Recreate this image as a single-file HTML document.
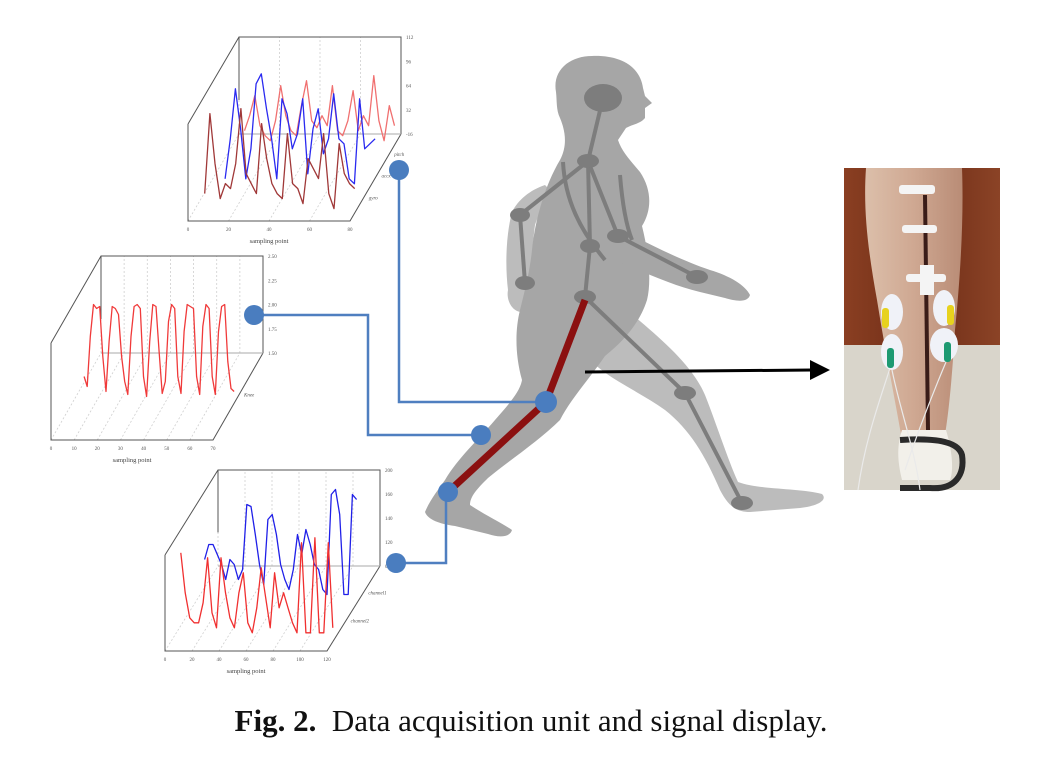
<!DOCTYPE html>
<html><head><meta charset="utf-8"><style>
html,body{margin:0;padding:0;background:#fff;}
body{width:1062px;height:777px;overflow:hidden;position:relative;}
svg{position:absolute;left:0;top:0;}
.cap{position:absolute;left:0;width:1062px;top:703px;text-align:center;font-family:"Liberation Serif","DejaVu Serif",serif;font-size:31px;color:#111;white-space:nowrap;}
</style></head><body>
<svg id="fig" width="1062" height="777" viewBox="0 0 1062 777">
<defs>
<linearGradient id="wood" x1="0" x2="1" y1="0" y2="0"><stop offset="0" stop-color="#8a3f22"/><stop offset="0.5" stop-color="#6e2c17"/><stop offset="1" stop-color="#8b4326"/></linearGradient>
<linearGradient id="skin" x1="0" x2="1"><stop offset="0" stop-color="#dcbfaa"/><stop offset="0.5" stop-color="#cfa892"/><stop offset="1" stop-color="#b98c76"/></linearGradient>
</defs>
<g id="charts"></g>
<g id="body">
 <path fill="#bcbcbc" d="M615,300 C650,330 690,360 705,395 C715,420 728,460 738,482 C760,490 800,488 822,494 C828,500 818,506 800,508 L750,512 C735,512 728,505 720,490 C705,455 690,430 665,410 C640,392 610,380 590,360 Z"/>
 <path fill="#bcbcbc" d="M545,185 C530,190 518,200 512,212 C506,235 505,265 508,290 C506,300 512,312 522,312 C530,305 535,300 538,292 C532,270 532,245 535,225 C540,210 548,200 552,192 Z"/>
 <path fill="#a6a6a6" d="M556,92 C552,70 570,56 592,56 C620,55 640,66 643,88 L645,96 L652,103 L645,108 L645,118 C640,124 633,124 626,128 L618,140 C622,152 630,160 640,172 C652,190 652,210 642,226 C648,250 652,280 647,300 C640,322 625,340 605,356 C590,378 570,400 560,420 C540,440 510,460 488,478 C478,488 470,496 470,505 C485,515 500,522 512,530 C510,537 500,538 488,534 L455,526 C440,524 428,520 425,512 C430,500 438,490 445,480 C458,458 478,440 495,420 C508,405 520,392 522,380 C515,355 515,330 520,310 C525,290 530,270 532,250 C535,220 545,185 560,160 C568,145 565,130 560,118 C556,110 557,100 556,92 Z"/>
 <path fill="#a6a6a6" d="M612,224 C640,240 680,260 710,270 C730,276 745,285 750,295 C748,302 738,302 725,298 L700,292 C670,285 640,270 608,258 Z"/>
 <g stroke="#7d7d7d" stroke-width="4" fill="none">
  <line x1="603" y1="98" x2="588" y2="161"/><line x1="588" y1="161" x2="520" y2="215"/><line x1="520" y1="215" x2="525" y2="283"/>
  <line x1="588" y1="161" x2="590" y2="246"/><line x1="590" y1="246" x2="585" y2="297"/>
  <line x1="588" y1="161" x2="618" y2="236"/><line x1="618" y1="236" x2="697" y2="277"/>
  <line x1="585" y1="297" x2="685" y2="393"/><line x1="685" y1="393" x2="742" y2="503"/>
  <path d="M563,162 C565,200 580,230 605,260"/><path d="M620,175 C622,200 626,225 632,240"/>
 </g>
 <g fill="#7d7d7d">
  <ellipse cx="603" cy="98" rx="19" ry="14"/><ellipse cx="588" cy="161" rx="11" ry="7"/><ellipse cx="520" cy="215" rx="10" ry="7"/>
  <ellipse cx="525" cy="283" rx="10" ry="7"/><ellipse cx="590" cy="246" rx="10" ry="7"/><ellipse cx="585" cy="297" rx="11" ry="7"/>
  <ellipse cx="618" cy="236" rx="11" ry="7"/><ellipse cx="697" cy="277" rx="11" ry="7"/><ellipse cx="685" cy="393" rx="11" ry="7"/>
  <ellipse cx="742" cy="503" rx="11" ry="7"/>
 </g>
 <g stroke="#8b1010" stroke-width="7">
  <line x1="585" y1="300" x2="546" y2="402"/><line x1="546" y1="402" x2="448" y2="492"/>
 </g>
</g>
<g stroke="#4f7fc0" stroke-width="2.5" fill="none">
 <polyline points="399,170 399,402 546,402"/>
 <polyline points="254,315 368,315 368,435 481,435"/>
 <polyline points="396,563 446,563 446,492"/>
</g>
<g fill="#4a7dbf">
 <circle cx="399" cy="170" r="10"/>
 <circle cx="254" cy="315" r="10"/>
 <circle cx="396" cy="563" r="10"/>
 <circle cx="546" cy="402" r="11"/>
 <circle cx="481" cy="435" r="10"/>
 <circle cx="448" cy="492" r="10"/>
</g>
<g>
 <line x1="585" y1="372" x2="812" y2="370" stroke="#000" stroke-width="3"/>
 <polygon points="810,360 830,370 810,380" fill="#000"/>
</g>
<g>
 <rect x="844" y="168" width="156" height="322" fill="url(#wood)"/>
 <rect x="844" y="345" width="156" height="145" fill="#d9d5cb"/>
 <path fill="url(#skin)" d="M866,168 L962,168 C964,220 960,280 955,330 C952,380 948,420 944,440 L902,440 C895,400 885,350 877,300 C868,250 863,210 866,168 Z"/>
 <path fill="#f2f0ea" d="M902,430 L946,430 C952,450 954,470 950,480 L902,480 C897,460 897,445 902,430 Z"/>
 <path fill="none" stroke="#2a2a2a" stroke-width="6" d="M900,440 C930,438 958,440 962,455 C965,475 955,490 930,488 L900,488"/>
 <line x1="925" y1="195" x2="928" y2="430" stroke="#3a1c18" stroke-width="4"/>
 <g fill="#f4f4f4"><rect x="899" y="185" width="36" height="9" rx="3"/><rect x="902" y="225" width="35" height="8" rx="3"/><rect x="906" y="274" width="40" height="8" rx="3"/><rect x="920" y="265" width="14" height="30"/></g>
 <g fill="#f0f2f8"><ellipse cx="892" cy="312" rx="11" ry="18"/><ellipse cx="944" cy="308" rx="11" ry="18"/><ellipse cx="892" cy="352" rx="11" ry="18"/><ellipse cx="944" cy="345" rx="14" ry="17"/></g>
 <g fill="#e7d21e"><rect x="882" y="308" width="7" height="20" rx="3"/><rect x="947" y="305" width="7" height="20" rx="3"/></g>
 <g fill="#1d9a72"><rect x="887" y="348" width="7" height="20" rx="3"/><rect x="944" y="342" width="7" height="20" rx="3"/></g>
 <g stroke="#eaeaea" stroke-width="1.2" fill="none"><path d="M890,368 C880,400 865,440 858,490"/><path d="M946,362 C930,400 915,440 905,470"/><path d="M892,370 C900,410 915,450 920,490"/></g>
</g>
</svg>
<div class="cap"><b>Fig. 2.</b>&nbsp; Data acquisition unit and signal display.</div>
<script>
// ---- Top chart data (IMU signals) ----
const topXTicks = ["0","20","40","60","80"];
const topYTicks = ["112","96","64","32","-16"];
const topDepthLabels = ["pitch","accx","gyro"];
const topPink = [5,20,40,10,0,-5,15,50,20,5,0,30,55,15,8,20,10,50,5,0,15,45,5,20,10,60,15,-5,30,10];
const topBlue = [-10,30,80,40,-10,20,85,95,60,30,-10,70,55,20,35,70,-5,40,60,15,30,75,30,25,-10,-15,70,20,25,30];
const topBrown = [10,90,40,5,20,15,40,95,30,20,10,80,45,20,10,5,70,20,15,0,45,35,25,70,10,-5,60,30,20,15];
// ---- Middle chart data (knee angle) ----
const midXTicks = ["0","10","20","30","40","50","60","70"];
const midYTicks = ["2.50","2.25","2.00","1.75","1.50"];
const midDepthLabels = ["Knee"];
const midKnee = [20,10,60,92,88,90,40,5,55,90,88,82,40,15,2,60,90,92,88,20,0,55,92,90,45,3,15,75,92,88,20,3,65,92,90,88,20,2,70,92,88,20,2,65,90,92,35,8,5];
// ---- Bottom chart data (EMG channels) ----
const botXTicks = ["0","20","40","60","80","100","120"];
const botYTicks = ["200","160","140","120","0"];
const botDepthLabels = ["channel1","channel2"];
const botBlue = [15,30,30,20,10,-5,15,10,-5,5,70,68,40,10,-10,55,60,40,10,-5,-15,5,40,20,45,30,10,5,-15,-20,80,85,60,-20,-20,80,75];
const botRed = [60,20,-5,-10,-10,10,55,0,-15,55,20,-5,-15,20,40,-10,-20,5,45,15,-15,40,5,20,5,-10,-20,70,-20,-20,75,-20,-20,70,-15];

const NS = "http://www.w3.org/2000/svg";
const root = document.getElementById('charts');
function mk(tag, attrs, parent) {
  const e = document.createElementNS(NS, tag);
  for (const k in attrs) e.setAttribute(k, attrs[k]);
  (parent || root).appendChild(e);
  return e;
}
function box(cfg) {
  const g = mk('g', {});
  
  
  const ox = cfg.ox, oy = cfg.oy, W = cfg.w, H = cfg.h, dx = cfg.dx, dy = cfg.dy;
  const grid = {stroke: '#cfcfcf', 'stroke-width': 0.8, 'stroke-dasharray': '2,2', fill: 'none'};
  const nx = cfg.xTicks.length;
  for (let i = 0; i < nx; i++) {
    const x = ox + i / (nx - 1) * W;
    mk('line', Object.assign({x1: x, y1: oy, x2: x + dx, y2: oy + dy}, grid), g);
    mk('line', Object.assign({x1: x + dx, y1: oy + dy, x2: x + dx, y2: oy + dy - H}, grid), g);
    const t = mk('text', {x: x, y: oy + 10, 'font-size': 5, 'text-anchor': 'middle', fill: '#555', 'font-family': 'Liberation Serif, serif'}, g);
    t.textContent = cfg.xTicks[i];
  }
  const ax = {stroke: '#555', 'stroke-width': 1, fill: 'none'};
  mk('polyline', Object.assign({points: `${ox},${oy - H} ${ox},${oy} ${ox + W},${oy} ${ox + W + dx},${oy + dy}`}, ax), g);
  mk('polyline', Object.assign({points: `${ox},${oy - H} ${ox + dx},${oy + dy - H} ${ox + W + dx},${oy + dy - H} ${ox + W + dx},${oy + dy}`}, ax), g);
  mk('line', Object.assign({x1: ox + dx, y1: oy + dy - H, x2: ox + dx, y2: oy + dy - H * 0.35}, ax), g);
  mk('line', {x1: ox + dx, y1: oy + dy, x2: ox + W + dx, y2: oy + dy, stroke: '#aaa', 'stroke-width': 1}, g);
  const ny = cfg.yTicks.length;
  for (let j = 0; j < ny; j++) {
    const y = oy + dy - H + j / (ny - 1) * H;
    const t = mk('text', {x: ox + W + dx + 5, y: y + 2, 'font-size': 5, fill: '#555', 'font-family': 'Liberation Serif, serif'}, g);
    t.textContent = cfg.yTicks[j];
  }
  cfg.depthLabels.forEach((lab, k) => {
    const d = (k + 1) / (cfg.depthLabels.length + 1);
    const t = mk('text', {x: ox + W + dx * (1 - d) + 6, y: oy + dy * (1 - d), 'font-size': 5, 'font-style': 'italic', fill: '#555', 'font-family': 'Liberation Serif, serif'}, g);
    t.textContent = lab;
  });
  const xl = mk('text', {x: ox + W / 2, y: oy + 22, 'font-size': 6.5, 'text-anchor': 'middle', fill: '#444', 'font-family': 'Liberation Serif, serif'}, g);
  xl.textContent = 'sampling point';
  return g;
}
function series(g, vals, cfg, depth, span, color, name) {
  const sx = cfg.ox + cfg.dx * depth + cfg.w * cfg.start;
  const sy = cfg.oy + cfg.dy * depth;
  const xS = i => sx + i / (vals.length - 1) * span;
  const yS = v => sy - v * cfg.k;
  const pts = vals.map((v, i) => xS(i).toFixed(1) + ',' + yS(v).toFixed(1)).join(' ');
  const p = mk('polyline', {points: pts, fill: 'none', stroke: color, 'stroke-width': 1.3, 'stroke-linejoin': 'round'}, g);
  
  
}
const topCfg = {name: 'imu-chart', ox: 188, oy: 221, w: 162, h: 97, dx: 51, dy: -87, xTicks: topXTicks, yTicks: topYTicks, depthLabels: topDepthLabels, k: 1, start: 0.04};
const gT = box(topCfg);
series(gT, topPink, topCfg, 0.98, 150, '#f07070', 'series-pitch');
series(gT, topBlue, topCfg, 0.6, 150, '#2a2af0', 'series-accx');
series(gT, topBrown, topCfg, 0.2, 150, '#a03838', 'series-gyro');
const midCfg = {name: 'knee-angle-chart', ox: 51, oy: 440, w: 162, h: 97, dx: 50, dy: -87, xTicks: midXTicks, yTicks: midYTicks, depthLabels: midDepthLabels, k: 1, start: 0.05};
const gM = box(midCfg);
series(gM, midKnee, midCfg, 0.5, 150, '#f03a3a', 'series-knee');
const botCfg = {name: 'emg-chart', ox: 165, oy: 651, w: 162, h: 96, dx: 53, dy: -85, xTicks: botXTicks, yTicks: botYTicks, depthLabels: botDepthLabels, k: 1, start: -0.05};
const gB = box(botCfg);
series(gB, botBlue, botCfg, 0.9, 152, '#2020e8', 'series-channel1');
series(gB, botRed, botCfg, 0.45, 152, '#f03030', 'series-channel2');
</script>
</body></html>
